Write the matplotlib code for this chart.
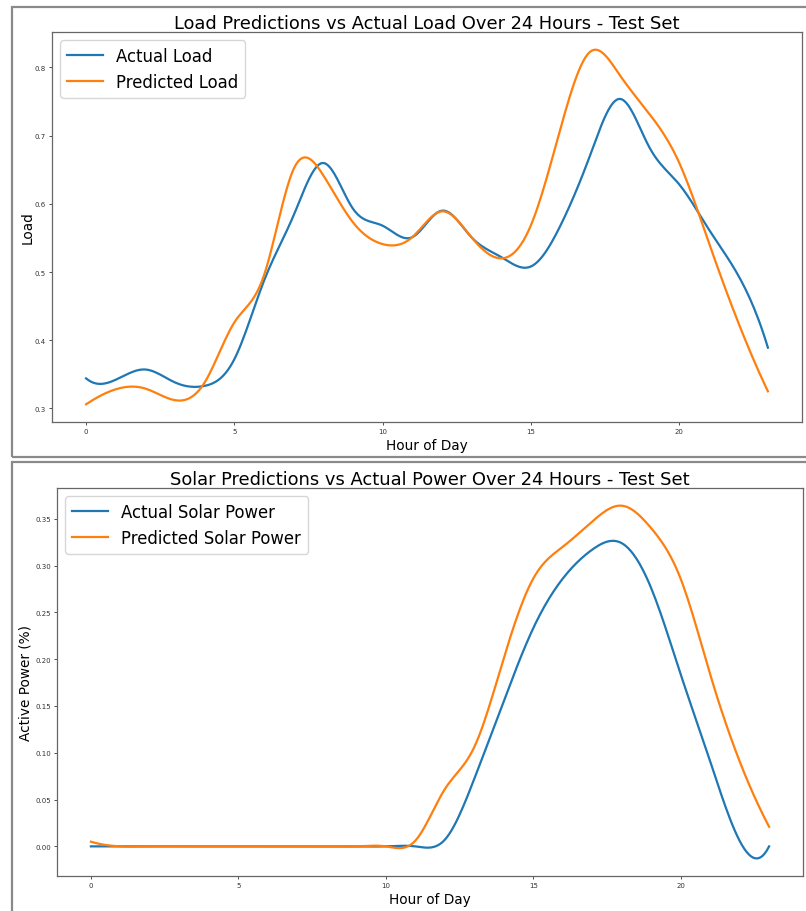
import numpy as np
import matplotlib
matplotlib.use("Agg")
import matplotlib.pyplot as plt
from matplotlib.patches import Rectangle

hours = list(range(24))
actual_load = [0.344, 0.342, 0.357, 0.338, 0.333, 0.372, 0.487, 0.583, 0.660, 0.593,
               0.568, 0.551, 0.590, 0.551, 0.522, 0.508, 0.568, 0.671, 0.754, 0.683,
               0.629, 0.563, 0.495, 0.389]
predicted_load = [0.306, 0.328, 0.329, 0.312, 0.338, 0.426, 0.495, 0.651, 0.642, 0.573,
                  0.541, 0.551, 0.589, 0.551, 0.520, 0.568, 0.710, 0.823, 0.789, 0.732,
                  0.661, 0.544, 0.426, 0.325]
actual_solar = [0.0, 0.0, 0.0, 0.0, 0.0, 0.0, 0.0, 0.0, 0.0, 0.0,
                0.0, 0.0, 0.007, 0.072, 0.155, 0.233, 0.286, 0.317, 0.324, 0.276,
                0.184, 0.091, 0.006, 0.0]
predicted_solar = [0.005, 0.0, 0.0, 0.0, 0.0, 0.0, 0.0, 0.0, 0.0, 0.0,
                   0.0, 0.006, 0.061, 0.106, 0.201, 0.286, 0.320, 0.347, 0.364, 0.340,
                   0.286, 0.184, 0.091, 0.021]


def smooth(x, y, n=300):
    """Cubic spline (not-a-knot) through the points, for drawing a smooth line."""
    x = np.asarray(x, float)
    y = np.asarray(y, float)
    try:
        from scipy.interpolate import make_interp_spline
        xs = np.linspace(x.min(), x.max(), n)
        return xs, make_interp_spline(x, y, k=3)(xs)
    except Exception:
        pass
    m = len(x)
    h = np.diff(x)
    A = np.zeros((m, m))
    b = np.zeros(m)
    A[0, 0] = h[1]; A[0, 1] = -(h[0] + h[1]); A[0, 2] = h[0]
    A[-1, -3] = h[-1]; A[-1, -2] = -(h[-2] + h[-1]); A[-1, -1] = h[-2]
    for i in range(1, m - 1):
        A[i, i - 1] = h[i - 1]
        A[i, i] = 2 * (h[i - 1] + h[i])
        A[i, i + 1] = h[i]
        b[i] = 3 * ((y[i + 1] - y[i]) / h[i] - (y[i] - y[i - 1]) / h[i - 1])
    c = np.linalg.solve(A, b)
    bb = (y[1:] - y[:-1]) / h - h * (2 * c[:-1] + c[1:]) / 3
    d = (c[1:] - c[:-1]) / (3 * h)
    xs = np.linspace(x.min(), x.max(), n)
    idx = np.clip(np.searchsorted(x, xs) - 1, 0, m - 2)
    dx = xs - x[idx]
    ys = y[idx] + bb[idx] * dx + c[idx] * dx ** 2 + d[idx] * dx ** 3
    return xs, ys


fig = plt.figure(figsize=(8.06, 9.12), dpi=100)
W, H = 806, 912

# screenshot frames
for (x0, y0, x1, y1) in [(12, 8, 810, 458), (12, 463, 810, 920)]:
    fig.patches.append(Rectangle((x0 / W, 1 - y1 / H), (x1 - x0) / W, (y1 - y0) / H,
                                 transform=fig.transFigure, fill=False,
                                 edgecolor="#8a8a8a", linewidth=1.6))

ax1 = fig.add_axes([52 / W, 1 - 423 / H, (802 - 52) / W, (423 - 33) / H])
ax2 = fig.add_axes([57 / W, 1 - 877 / H, (803 - 57) / W, (877 - 489) / H])

TITLE_FS = 12.9
LABEL_FS = 9.8
LEGEND_FS = 11.9

xs, ys = smooth(hours, actual_load)
ax1.plot(xs, ys, color="#1f77b4", lw=1.6, label="Actual Load")
xs, ys = smooth(hours, predicted_load)
ax1.plot(xs, ys, color="#ff7f0e", lw=1.6, label="Predicted Load")
ax1.set_title("Load Predictions vs Actual Load Over 24 Hours - Test Set", fontsize=TITLE_FS, pad=3)
ax1.set_xlabel("Hour of Day", fontsize=LABEL_FS, labelpad=3)
ax1.set_ylabel("Load", fontsize=LABEL_FS)
ax1.yaxis.set_label_coords(-0.0227, 0.5)
ax1.legend(fontsize=LEGEND_FS, loc="upper left", handlelength=2.2)
ax1.set_xticks([0, 5, 10, 15, 20])
ax1.set_yticks([0.3, 0.4, 0.5, 0.6, 0.7, 0.8])

xs, ys = smooth(hours, actual_solar)
ax2.plot(xs, ys, color="#1f77b4", lw=1.6, label="Actual Solar Power")
xs, ys = smooth(hours, predicted_solar)
ax2.plot(xs, ys, color="#ff7f0e", lw=1.6, label="Predicted Solar Power")
ax2.set_title("Solar Predictions vs Actual Power Over 24 Hours - Test Set", fontsize=TITLE_FS, pad=3)
ax2.set_xlabel("Hour of Day", fontsize=LABEL_FS, labelpad=3)
ax2.set_ylabel("Active Power (%)", fontsize=LABEL_FS)
ax2.yaxis.set_label_coords(-0.0322, 0.5)
ax2.legend(fontsize=LEGEND_FS, loc="upper left", handlelength=2.2)
ax2.set_xticks([0, 5, 10, 15, 20])
ax2.set_yticks([0.0, 0.05, 0.10, 0.15, 0.20, 0.25, 0.30, 0.35])

for ax in (ax1, ax2):
    ax.tick_params(labelsize=5, length=2.5, width=0.6, pad=2, colors="#333333")
    for s in ax.spines.values():
        s.set_color("#666666")
        s.set_linewidth(0.9)

fig.savefig("out.png", dpi=100)
